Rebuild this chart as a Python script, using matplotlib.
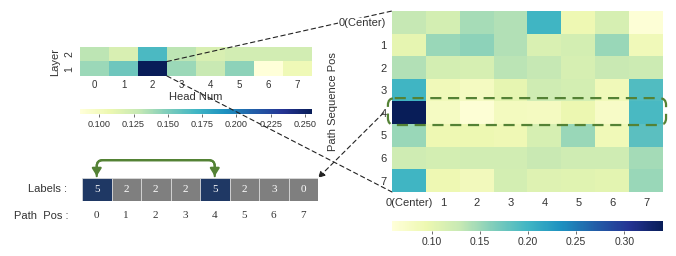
import matplotlib
matplotlib.use("Agg")
import matplotlib.pyplot as plt
import numpy as np
from matplotlib.patches import Rectangle, FancyBboxPatch, ConnectionPatch, FancyArrowPatch

plt.rcParams['font.family'] = ['Liberation Sans', 'DejaVu Sans']

# head attention (rows: layer 2, layer 1)
heads = [0, 1, 2, 3, 4, 5, 6, 7]
layer_names = ['2', '1']
layer2 = [0.131, 0.119, 0.167, 0.131, 0.119, 0.122, 0.122, 0.122]
layer1 = [0.141, 0.155, 0.255, 0.141, 0.127, 0.145, 0.086, 0.104]

# path position attention (rows = sequence pos, cols = path pos)
pos_names = ['0(Center)', '1', '2', '3', '4', '5', '6', '7']
pos_att = [
    [0.130, 0.118, 0.145, 0.140, 0.200, 0.093, 0.115, 0.062],
    [0.100, 0.152, 0.157, 0.140, 0.112, 0.118, 0.152, 0.087],
    [0.140, 0.118, 0.115, 0.135, 0.130, 0.115, 0.128, 0.124],
    [0.200, 0.087, 0.080, 0.100, 0.122, 0.118, 0.087, 0.190],
    [0.340, 0.078, 0.063, 0.082, 0.080, 0.095, 0.075, 0.195],
    [0.152, 0.092, 0.094, 0.090, 0.116, 0.152, 0.088, 0.185],
    [0.122, 0.118, 0.120, 0.120, 0.128, 0.122, 0.122, 0.146],
    [0.200, 0.092, 0.085, 0.118, 0.108, 0.106, 0.104, 0.152],
]

# path labels
seq_labels = [5, 2, 2, 2, 5, 2, 3, 0]
path_pos = [0, 1, 2, 3, 4, 5, 6, 7]

W, H = 676, 256
def box(x0, y0, x1, y1):
    return [x0 / W, 1 - y1 / H, (x1 - x0) / W, (y1 - y0) / H]

txt = '#333333'
green = '#548235'
fig = plt.figure(figsize=(W / 100, H / 100), dpi=100)

# left heatmap
ax1 = fig.add_axes(box(80, 47, 312, 76))
hm = np.array([layer2, layer1])
im1 = ax1.imshow(hm, cmap='YlGnBu', aspect='auto', vmin=hm.min(), vmax=hm.max())
ax1.set_xticks(range(len(heads)), [str(h) for h in heads], fontsize=7, color=txt)
ax1.set_yticks(range(2), layer_names, fontsize=7.5, color=txt, rotation=90, va='center')
ax1.tick_params(length=0, pad=4)
ax1.tick_params(axis='x', pad=3)
ax1.set_xlabel('Head Num', fontsize=8, color=txt, labelpad=1)
ax1.set_ylabel('Layer', fontsize=8, color=txt, labelpad=3)
for s in ax1.spines.values():
    s.set_visible(False)

cax1 = fig.add_axes(box(80, 109, 312, 114))
cb1 = fig.colorbar(im1, cax=cax1, orientation='horizontal')
cb1.set_ticks(np.arange(0.1, 0.2501, 0.025))
cb1.ax.set_xticklabels(['%.3f' % t for t in np.arange(0.1, 0.2501, 0.025)])
cb1.outline.set_visible(False)
cb1.ax.tick_params(labelsize=6.6, colors=txt, length=2, width=0.5, pad=2)

# right heatmap
ax2 = fig.add_axes(box(392, 11, 663, 192))
ax2.set_zorder(5)
pa = np.array(pos_att)
im2 = ax2.imshow(pa, cmap='YlGnBu', aspect='auto', vmin=0.059, vmax=pa.max())
ax2.set_xticks(range(8), pos_names, fontsize=8, color=txt)
ax2.set_yticks(range(8), pos_names, fontsize=8, color=txt)
ax2.tick_params(length=0, pad=4)
ax2.get_yticklabels()[0].set_bbox(dict(facecolor='white', edgecolor='none', pad=0.5))
ax2.set_ylabel('Path Sequence Pos', fontsize=8, color=txt, labelpad=1)
for s in ax2.spines.values():
    s.set_visible(False)

cax2 = fig.add_axes(box(392, 221, 663, 231))
cb2 = fig.colorbar(im2, cax=cax2, orientation='horizontal')
cb2.set_ticks([0.10, 0.15, 0.20, 0.25, 0.30])
cb2.outline.set_visible(False)
cb2.ax.tick_params(labelsize=7.5, colors=txt, length=2, width=0.5, pad=2)

# green dashed box around row 4
rect = FancyBboxPatch((-0.62, 3.35), 8.21, 1.19,
                      boxstyle='round,pad=0,rounding_size=0.2', mutation_aspect=1.5,
                      fill=False, edgecolor=green, lw=1.6, linestyle=(0, (5, 3)),
                      clip_on=False, zorder=5)
ax2.add_patch(rect)

# path label boxes
ax3 = fig.add_axes(box(82, 178, 318, 201))
ax3.set_xlim(0, len(seq_labels))
ax3.set_ylim(0, 1)
ax3.axis('off')
for i, lab in enumerate(seq_labels):
    fc = '#1f3864' if lab == seq_labels[0] else '#7f7f7f'
    ax3.add_patch(Rectangle((i, 0), 1, 1, facecolor=fc, edgecolor='#e0e0e0', lw=0.5))
    ax3.text(i + 0.5, 0.5, str(lab), color='white', ha='center', va='center',
             fontsize=8, family='Liberation Serif')
for i, p in enumerate(path_pos):
    ax3.text(i + 0.5, -0.65, str(p), color=txt, ha='center', va='center',
             fontsize=8, family='Liberation Serif', clip_on=False)
ax3.text(-0.5, 0.5, 'Labels :', ha='right', va='center', fontsize=8, color=txt, clip_on=False)
ax3.text(-0.47, -0.65, 'Path  Pos :', ha='right', va='center', fontsize=8, color=txt, clip_on=False)

same = [i for i, lab in enumerate(seq_labels) if lab == seq_labels[0]]
cstyle = 'arc,angleA=90,angleB=90,armA=16,armB=16,rad=6'
for a, b in [(same[1], same[0]), (same[0], same[1])]:
    ax3.add_patch(FancyArrowPatch((a + 0.5, 1.08), (b + 0.5, 1.08), connectionstyle=cstyle,
                                  arrowstyle='-|>,head_length=4.5,head_width=2.8', color=green,
                                  lw=1.6, shrinkA=0, shrinkB=0, clip_on=False))

# dashed connectors
dash = dict(color='#222222', lw=0.8, linestyle=(0, (4, 3)), zorder=3)
fig.add_artist(ConnectionPatch(xyA=(2.5, 0.5), coordsA=ax1.transData,
                               xyB=(-0.5, -0.5), coordsB=ax2.transData, **dash))
fig.add_artist(ConnectionPatch(xyA=(2.5, 1.5), coordsA=ax1.transData,
                               xyB=(-0.5, 7.5), coordsB=ax2.transData, **dash))
fig.add_artist(ConnectionPatch(xyA=(-0.75, 4.0), coordsA=ax2.transData,
                               xyB=(8, 1), coordsB=ax3.transData,
                               arrowstyle='-|>,head_length=4,head_width=2', mutation_scale=1,
                               shrinkA=0, shrinkB=0, **dash))

fig.savefig('out.png', dpi=100)
